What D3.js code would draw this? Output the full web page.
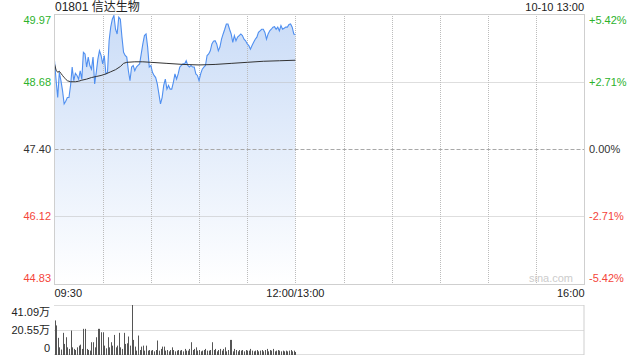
<!DOCTYPE html>
<meta charset="utf-8">
<script src="https://d3js.org/d3.v7.min.js"></script>
<style>
  body { margin: 0; background: #fff; }
  text { font-family: "Liberation Sans", Arial, "Noto Sans CJK SC", sans-serif; }
</style>
<svg id="chart" width="640" height="360"></svg>
<script>

// Chart data
const title = "01801 信达生物";
const stamp = "10-10 13:00";
const prevClose = 47.40;
const priceTicks = [49.97, 48.68, 47.40, 46.12, 44.83];
const pctTicks = ["+5.42%", "+2.71%", "0.00%", "-2.71%", "-5.42%"];
const timeTickMinutes = [0, 150, 330];
const timeLabels = ["09:30", "12:00/13:00", "16:00"];
const volTicks = [41.09, 20.55, 0];          // 万
const volLabels = ["41.09万", "20.55万", "0"];

// one price per minute from 09:30 to 12:00
const prices = [
  49.08, 48.71, 48.38, 48.86, 48.70, 48.51, 48.26, 48.31, 48.38, 48.38,
  48.61, 48.96, 48.70, 48.84, 48.80, 48.73, 48.89, 48.73, 49.24, 49.21,
  48.96, 49.15, 48.99, 48.92, 49.15, 48.64, 48.86, 49.11, 49.27, 49.18,
  49.02, 49.18, 48.83, 48.86, 49.46, 49.72, 49.87, 49.94, 49.68, 49.59,
  49.91, 49.87, 49.53, 49.24, 49.18, 49.15, 48.89, 48.70, 48.96, 48.99,
  48.89, 48.96, 48.99, 49.02, 49.21, 49.40, 49.56, 49.59, 49.34, 48.96,
  48.99, 48.86, 48.80, 48.76, 48.64, 48.45, 48.26, 48.38, 48.61, 48.73,
  48.54, 48.61, 48.54, 48.54, 48.67, 48.83, 48.73, 48.83, 48.96, 48.99,
  49.02, 49.02, 49.08, 48.99, 48.96, 48.99, 48.96, 48.96, 48.83, 48.80,
  48.70, 48.83, 48.92, 48.96, 48.99, 49.18, 49.21, 49.27, 49.40, 49.45,
  49.46, 49.40, 49.27, 49.34, 49.49, 49.59, 49.68, 49.78, 49.78, 49.68,
  49.59, 49.43, 49.56, 49.46, 49.53, 49.56, 49.59, 49.56, 49.49, 49.46,
  49.40, 49.37, 49.30, 49.37, 49.43, 49.49, 49.53, 49.62, 49.65, 49.68,
  49.68, 49.62, 49.49, 49.59, 49.65, 49.68, 49.72, 49.73, 49.68, 49.72,
  49.65, 49.75, 49.68, 49.70, 49.72, 49.72, 49.77, 49.78, 49.72, 49.59,
  49.58
];

// average price line, sampled
const avgMinutes = [0, 1, 2, 3, 4, 5, 6, 7, 8, 10, 13, 15, 17, 20, 23, 26, 29, 32,
  35, 38, 41, 43, 45, 50, 55, 60, 70, 80, 90, 100, 110, 120, 130, 140, 150];
const avgPrices = [49.02, 48.90, 48.86, 48.88, 48.84, 48.80, 48.76, 48.73, 48.70,
  48.68, 48.68, 48.69, 48.71, 48.73, 48.76, 48.78, 48.80, 48.83, 48.87, 48.91,
  48.97, 49.03, 49.05, 49.06, 49.06, 49.05, 49.03, 49.01, 49.00, 49.01, 49.03,
  49.05, 49.07, 49.08, 49.09];

// volume per minute, in 万
const volumes = [
  28.4, 24.3, 14.1, 6.3, 4.5, 18.2, 9.1, 14.6, 6.3, 5.0,
  20.1, 6.3, 5.0, 4.1, 6.3, 7.7, 8.5, 5.0, 21.5, 21.5,
  5.0, 4.1, 3.6, 10.5, 10.5, 6.3, 14.6, 21.5, 21.5, 18.7,
  18.7, 7.7, 5.5, 14.6, 6.3, 10.5, 7.7, 16.5, 6.3, 7.7,
  18.2, 6.3, 5.0, 18.2, 9.1, 9.6, 15.2, 7.7, 41.09, 12.4,
  6.9, 3.6, 16.0, 4.1, 6.9, 7.7, 3.6, 7.7, 3.6, 4.1,
  3.6, 4.1, 3.0, 4.1, 11.9, 3.6, 5.0, 6.9, 6.9, 3.6,
  4.1, 3.0, 4.1, 6.3, 4.1, 3.0, 3.6, 4.1, 3.6, 4.1,
  3.0, 5.0, 3.6, 3.6, 5.0, 10.5, 4.1, 5.0, 6.3, 3.6,
  4.1, 3.0, 3.6, 4.1, 5.0, 3.6, 3.6, 4.1, 10.5, 4.1,
  5.0, 3.0, 4.1, 5.0, 3.6, 5.0, 6.3, 3.0, 4.1, 12.4,
  12.4, 3.0, 5.0, 4.1, 3.0, 4.1, 3.6, 4.1, 3.0, 4.1,
  3.6, 3.6, 5.0, 3.6, 3.0, 3.6, 4.1, 3.0, 3.6, 4.1,
  3.0, 4.1, 5.0, 3.0, 4.1, 3.6, 5.0, 3.0, 3.6, 4.1,
  3.6, 3.0, 3.6, 3.0, 3.6, 3.0, 3.6, 4.1, 3.0, 3.6,
  2.5
];

const svg = d3.select("#chart");
const green = "#2cb22c", red = "#f4453a", dark = "#333";
const tickColor = (d) => d > prevClose ? green : d < prevClose ? red : dark;

const plotLeft = 54.5, plotRight = 584.5, plotTop = 14, plotBottom = 284;
const vTop = 305, vBottom = 355;

const x = d3.scaleLinear().domain([0, 330]).range([plotLeft, plotRight]);
const y = d3.scaleLinear().domain([44.83, 49.97]).range([plotBottom, plotTop]);
const yv = d3.scaleLinear().domain([0, 41.09]).range([vBottom, vTop]);
const px = (v) => Math.round(v) + 0.5;

// gradient fill
const grad = svg.append("defs").append("linearGradient")
  .attr("id", "fade").attr("gradientUnits", "userSpaceOnUse")
  .attr("x1", 0).attr("x2", 0).attr("y1", plotTop).attr("y2", plotBottom);
grad.append("stop").attr("offset", 0).attr("stop-color", "#cadcf7");
grad.append("stop").attr("offset", 1).attr("stop-color", "#ffffff");

// area under price
svg.append("path")
  .datum(prices)
  .attr("fill", "url(#fade)")
  .attr("d", d3.area().x((d, i) => x(i)).y0(plotBottom).y1(d => y(d)));

// vertical grid, every 30 minutes
svg.append("g").selectAll("line")
  .data(d3.range(30, 330, 30))
  .join("line")
    .attr("x1", d => px(x(d))).attr("x2", d => px(x(d)))
    .attr("y1", plotTop).attr("y2", plotBottom)
    .attr("stroke", "#bcbcbc").attr("stroke-dasharray", "1,1");

// horizontal grid
svg.append("g").selectAll("line")
  .data(priceTicks.slice(1, -1))
  .join("line")
    .attr("x1", plotLeft).attr("x2", plotRight)
    .attr("y1", d => px(y(d))).attr("y2", d => px(y(d)))
    .attr("stroke", d => d === prevClose ? "#a8a8a8" : "#bcbcbc")
    .attr("stroke-dasharray", d => d === prevClose ? "4,2" : "1,1");

// price + average lines
svg.append("path")
  .datum(prices)
  .attr("fill", "none").attr("stroke", "#4f8ff0").attr("stroke-width", 1.1)
  .attr("d", d3.line().x((d, i) => x(i)).y(d => y(d)));

svg.append("path")
  .datum(avgMinutes.map((m, i) => [m, avgPrices[i]]))
  .attr("fill", "none").attr("stroke", "#333").attr("stroke-width", 1)
  .attr("d", d3.line().x(d => x(d[0])).y(d => y(d[1])));

// frame
svg.append("rect")
  .attr("x", plotLeft).attr("y", plotTop + 0.5)
  .attr("width", plotRight - plotLeft).attr("height", plotBottom - plotTop)
  .attr("fill", "none").attr("stroke", "#cfcfcf");

// watermark
svg.append("text").attr("x", 573).attr("y", 282)
  .attr("text-anchor", "end").attr("font-size", 11).attr("fill", "#cccccc")
  .text("sina.com");

// left price labels
const labelY = (v) => {
  const yy = y(v);
  if (yy < plotTop + 2) return yy + 10;
  if (yy > plotBottom - 2) return yy - 2;
  return yy + 4;
};
svg.append("g").selectAll("text")
  .data(priceTicks)
  .join("text")
    .attr("x", 51).attr("y", d => labelY(d))
    .attr("text-anchor", "end").attr("font-size", 11)
    .attr("fill", d => tickColor(d))
    .text(d => d.toFixed(2));

// right percent labels
svg.append("g").selectAll("text")
  .data(priceTicks)
  .join("text")
    .attr("x", 589).attr("y", d => labelY(d))
    .attr("font-size", 11)
    .attr("fill", d => tickColor(d))
    .text((d, i) => pctTicks[i]);

// title and stamp
svg.append("text").attr("x", 55).attr("y", 11)
  .attr("font-size", 12).attr("fill", "#222").text(title);
svg.append("text").attr("x", 584).attr("y", 11)
  .attr("text-anchor", "end").attr("font-size", 11).attr("fill", "#222").text(stamp);

// time labels
svg.append("g").selectAll("text")
  .data(timeTickMinutes)
  .join("text")
    .attr("x", d => x(d)).attr("y", 297)
    .attr("text-anchor", (d, i) => i === 0 ? "start" : i === timeTickMinutes.length - 1 ? "end" : "middle")
    .attr("font-size", 11).attr("fill", "#222")
    .text((d, i) => timeLabels[i]);

// volume panel
svg.append("g").selectAll("line")
  .data(volTicks)
  .join("line")
    .attr("x1", plotLeft).attr("x2", plotRight)
    .attr("y1", d => px(yv(d)) - (d === 0 ? 1 : 0)).attr("y2", d => px(yv(d)) - (d === 0 ? 1 : 0))
    .attr("stroke", "#bdbdbd").attr("stroke-dasharray", "1,1");
svg.append("line")
  .attr("x1", plotRight - 0.5).attr("x2", plotRight - 0.5).attr("y1", vTop).attr("y2", vBottom)
  .attr("stroke", "#cfcfcf");

svg.append("g").selectAll("rect")
  .data(volumes)
  .join("rect")
    .attr("x", (d, i) => Math.round(x(i)))
    .attr("width", 1)
    .attr("y", d => yv(d))
    .attr("height", d => vBottom - yv(d))
    .attr("fill", "#555");

svg.append("g").selectAll("text")
  .data(volTicks)
  .join("text")
    .attr("x", 50).attr("y", d => d === 0 ? yv(d) - 3 : yv(d) + (d === 41.09 ? 11 : 4))
    .attr("text-anchor", "end").attr("font-size", 11).attr("fill", "#222")
    .text((d, i) => volLabels[i]);

</script>
